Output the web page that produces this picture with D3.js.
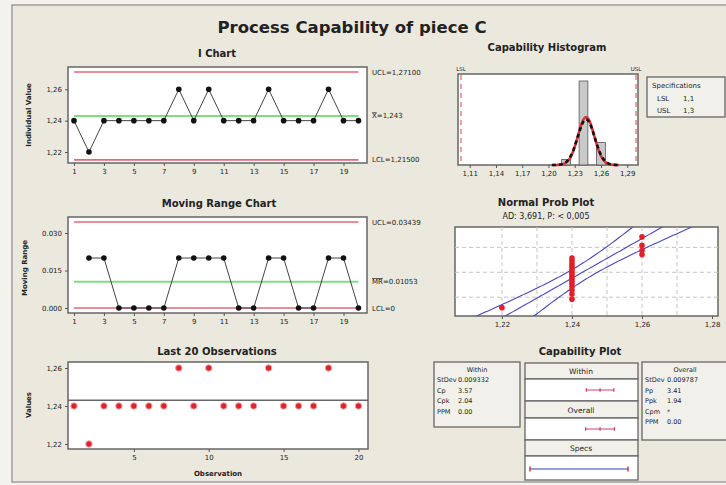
<!DOCTYPE html>
<html>
<head>
<meta charset="utf-8">
<script src="https://cdn.jsdelivr.net/npm/d3@7"></script>
<style>
body { margin: 0; background: #f4f2ed; }
text { font-family: "DejaVu Sans", sans-serif; fill: #222; }
</style>
</head>
<body>
<div id="chart"></div>
<script>
// Data
const observations = [1.24, 1.22, 1.24, 1.24, 1.24, 1.24, 1.24, 1.26, 1.24, 1.26,
                      1.24, 1.24, 1.24, 1.26, 1.24, 1.24, 1.24, 1.26, 1.24, 1.24];
const movingRanges = [null, 0.02, 0.02, 0, 0, 0, 0, 0.02, 0.02, 0.02,
                      0.02, 0, 0, 0.02, 0.02, 0, 0, 0.02, 0.02, 0];
const iLimits = [1.271, 1.243, 1.215];          // UCL, mean, LCL
const iLimitLabels = ["UCL=1,27100", "=1,243", "LCL=1,21500"];
const mrLimits = [0.03439, 0.01053, 0];
const mrLimitLabels = ["UCL=0.03439", "=0.01053", "LCL=0"];
const iTicks = [1.22, 1.24, 1.26];
const mrTicks = [0, 0.015, 0.030];
const chartTicksX = [1, 3, 5, 7, 9, 11, 13, 15, 17, 19];
const lastTicksX = [5, 10, 15, 20];

const histBinStart = [1.215, 1.235, 1.255];
const histCounts = [1, 15, 4];
const histBinWidth = 0.01;
const histTicks = [1.11, 1.14, 1.17, 1.20, 1.23, 1.26, 1.29];
const specNames = ["LSL", "USL"];
const specValues = [1.1, 1.3];
const specLabels = ["1,1", "1,3"];

const probTicks = [1.22, 1.24, 1.26, 1.28];
const probGridX = [1.22, 1.23, 1.24, 1.25, 1.26, 1.27];
const probGridPct = [10, 50, 90];

const sdWithin = 0.009332;
const sdOverall = 0.009787;
const withinNames = ["StDev", "Cp", "Cpk", "PPM"];
const withinValues = ["0.009332", "3.57", "2.04", "0.00"];
const overallNames = ["StDev", "Pp", "Ppk", "Cpm", "PPM"];
const overallValues = ["0.009787", "3.41", "1.94", "*", "0.00"];

const W = 726, H = 485;
const comma = f => d => d3.format(f)(d).replace(".", ",");

const svg = d3.select("#chart").append("svg")
    .attr("width", W).attr("height", H);

svg.append("rect").attr("x", 12).attr("y", 5).attr("width", 740).attr("height", 477)
    .attr("fill", "#ebe8de").attr("stroke", "#8a8a8a").attr("stroke-width", 1.2);

svg.append("text").attr("x", 352).attr("y", 33).attr("text-anchor", "middle")
    .style("font-size", "16.5px").style("font-weight", "bold")
    .text("Process Capability of piece C");

function title(x, y, t, size) {
    svg.append("text").attr("x", x).attr("y", y).attr("text-anchor", "middle")
        .style("font-size", (size || 10) + "px").style("font-weight", "bold").text(t);
}
function box(x0, y0, x1, y1) {
    return svg.append("rect").attr("x", x0).attr("y", y0)
        .attr("width", x1 - x0).attr("height", y1 - y0)
        .attr("fill", "#fff").attr("stroke", "#666").attr("stroke-width", 1.5);
}
function styleAxis(g) {
    g.select(".domain").remove();
    g.selectAll("text").style("font-size", "7px").attr("fill", "#333");
    g.selectAll("line").attr("stroke", "#555");
}
function yTitle(x, y, t) {
    svg.append("text").attr("transform", `translate(${x},${y}) rotate(-90)`)
        .attr("text-anchor", "middle").style("font-size", "7px").style("font-weight", "bold").text(t);
}

// ---------- I Chart ----------
const xObs = d3.scaleLinear().domain([0.6, 20.57]).range([68, 367]);
const yI = d3.scaleLinear().domain([1.2130, 1.2742]).range([163, 67]);
title(217, 57, "I Chart");
box(68, 67, 367, 163);
svg.append("g").attr("transform", "translate(68,0)")
    .call(d3.axisLeft(yI).tickValues(iTicks).tickSize(3).tickFormat(comma(".2f"))).call(styleAxis);
svg.append("g").attr("transform", "translate(0,163)")
    .call(d3.axisBottom(xObs).tickValues(chartTicksX).tickSize(3)).call(styleAxis);
yTitle(31, 115, "Individual Value");

const limitColors = ["#e06a78", "#80dd80", "#e06a78"];
iLimits.forEach((v, i) => {
    svg.append("line").attr("x1", xObs(1)).attr("x2", xObs(20))
        .attr("y1", yI(v)).attr("y2", yI(v))
        .attr("stroke", limitColors[i]).attr("stroke-width", i === 1 ? 2 : 1.6);
});
const iLine = d3.line().x((d, i) => xObs(i + 1)).y(d => yI(d));
svg.append("path").datum(observations).attr("d", iLine)
    .attr("fill", "none").attr("stroke", "#444").attr("stroke-width", 1);
svg.selectAll(".ipt").data(observations).join("circle")
    .attr("cx", (d, i) => xObs(i + 1)).attr("cy", d => yI(d)).attr("r", 2.8).attr("fill", "#111");

function limitLabel(y, t, bar, barText) {
    const tx = svg.append("text").attr("x", 372).attr("y", y + 2.5).style("font-size", "7px");
    if (bar) {
        tx.append("tspan").style("text-decoration", "overline").text(barText);
    }
    tx.append("tspan").text(t);
}
limitLabel(yI(iLimits[0]), iLimitLabels[0]);
limitLabel(yI(iLimits[1]), iLimitLabels[1], true, "X");
limitLabel(yI(iLimits[2]), iLimitLabels[2]);

// ---------- Moving Range Chart ----------
const yMR = d3.scaleLinear().domain([-0.002, 0.0364]).range([313, 217]);
title(219, 207, "Moving Range Chart");
box(68, 217, 367, 313);
svg.append("g").attr("transform", "translate(68,0)")
    .call(d3.axisLeft(yMR).tickValues(mrTicks).tickSize(3).tickFormat(d3.format(".3f"))).call(styleAxis);
svg.append("g").attr("transform", "translate(0,313)")
    .call(d3.axisBottom(xObs).tickValues(chartTicksX).tickSize(3)).call(styleAxis);
yTitle(27, 268, "Moving Range");
mrLimits.forEach((v, i) => {
    svg.append("line").attr("x1", xObs(1)).attr("x2", xObs(20))
        .attr("y1", yMR(v)).attr("y2", yMR(v))
        .attr("stroke", limitColors[i]).attr("stroke-width", i === 1 ? 2 : 1.6);
});
const mrData = movingRanges.map((v, i) => ({ i: i + 1, v })).filter(d => d.v !== null);
svg.append("path").datum(mrData)
    .attr("d", d3.line().x(d => xObs(d.i)).y(d => yMR(d.v)))
    .attr("fill", "none").attr("stroke", "#444").attr("stroke-width", 1);
svg.selectAll(".mrpt").data(mrData).join("circle")
    .attr("cx", d => xObs(d.i)).attr("cy", d => yMR(d.v)).attr("r", 2.8).attr("fill", "#111");
limitLabel(yMR(mrLimits[0]), mrLimitLabels[0]);
limitLabel(yMR(mrLimits[1]), mrLimitLabels[1], true, "MR");
limitLabel(yMR(mrLimits[2]), mrLimitLabels[2]);

// ---------- Last 20 Observations ----------
const yL = d3.scaleLinear().domain([1.21737, 1.26316]).range([449, 362]);
title(217, 355, "Last 20 Observations");
box(68, 362, 368, 449);
svg.append("g").attr("transform", "translate(68,0)")
    .call(d3.axisLeft(yL).tickValues(iTicks).tickSize(3).tickFormat(comma(".2f"))).call(styleAxis);
svg.append("g").attr("transform", "translate(0,449)")
    .call(d3.axisBottom(xObs).tickValues(lastTicksX).tickSize(3)).call(styleAxis);
yTitle(31, 405, "Values");
svg.append("text").attr("x", 218).attr("y", 476).attr("text-anchor", "middle")
    .style("font-size", "7px").style("font-weight", "bold").text("Observation");
svg.append("line").attr("x1", 68).attr("x2", 368)
    .attr("y1", yL(iLimits[1])).attr("y2", yL(iLimits[1]))
    .attr("stroke", "#666").attr("stroke-width", 1.5);
svg.selectAll(".lpt").data(observations).join("circle")
    .attr("cx", (d, i) => xObs(i + 1)).attr("cy", d => yL(d)).attr("r", 3.2)
    .attr("fill", "#d9252f").attr("stroke", "#f2a0a0").attr("stroke-width", 1);

// ---------- Capability Histogram ----------
const xH = d3.scaleLinear().domain([1.0966, 1.3023]).range([458, 638]);
const yH = d3.scaleLinear().domain([0, 16.25]).range([165, 74]);
title(547, 51, "Capability Histogram");
box(458, 74, 638, 165);
svg.append("g").attr("transform", "translate(0,165)")
    .call(d3.axisBottom(xH).tickValues(histTicks).tickSize(3).tickFormat(comma(".2f"))).call(styleAxis);
svg.selectAll(".hbar").data(histCounts).join("rect")
    .attr("x", (d, i) => xH(histBinStart[i]))
    .attr("width", (d, i) => xH(histBinStart[i] + histBinWidth) - xH(histBinStart[i]))
    .attr("y", d => yH(d)).attr("height", d => yH(0) - yH(d))
    .attr("fill", "#c9c9c9").attr("stroke", "#555").attr("stroke-width", 0.8);
const mean = d3.mean(observations);
const n = observations.length;
function normalCurve(sd) {
    const pts = d3.range(-4, 4.01, 0.1).map(z => {
        const x = mean + z * sd;
        const dens = Math.exp(-0.5 * z * z) / (sd * Math.sqrt(2 * Math.PI));
        return [x, dens * n * histBinWidth];
    });
    return d3.line().x(d => xH(d[0])).y(d => yH(d[1]))(pts);
}
svg.append("path").attr("d", normalCurve(sdWithin))
    .attr("fill", "none").attr("stroke", "#e0303a").attr("stroke-width", 2.6);
svg.append("path").attr("d", normalCurve(sdOverall))
    .attr("fill", "none").attr("stroke", "#111").attr("stroke-width", 2.6).attr("stroke-dasharray", "4,3");
specValues.forEach((v, i) => {
    svg.append("line").attr("x1", xH(v)).attr("x2", xH(v)).attr("y1", 75).attr("y2", 164)
        .attr("stroke", "#e07070").attr("stroke-width", 1.3).attr("stroke-dasharray", "5,4");
    svg.append("text").attr("x", xH(v)).attr("y", 71).attr("text-anchor", "middle")
        .style("font-size", "5.5px").attr("fill", "#e04848").text(specNames[i]);
});

// Specifications box
svg.append("rect").attr("x", 647).attr("y", 77).attr("width", 78).attr("height", 40)
    .attr("fill", "#f2f0ea").attr("stroke", "#666").attr("stroke-width", 1.3);
svg.append("text").attr("x", 652).attr("y", 88).style("font-size", "7px").text("Specifications");
specNames.forEach((s, i) => {
    svg.append("text").attr("x", 657).attr("y", 101 + i * 12).style("font-size", "7px").text(s);
    svg.append("text").attr("x", 683).attr("y", 101 + i * 12).style("font-size", "7px").text(specLabels[i]);
});

// ---------- Normal Prob Plot ----------
function qnorm(p) {
    const a = [-3.969683028665376e+01, 2.209460984245205e+02, -2.759285104469687e+02, 1.383577518672690e+02, -3.066479806614716e+01, 2.506628277459239e+00];
    const b = [-5.447609879822406e+01, 1.615858368580409e+02, -1.556989798598866e+02, 6.680131188771972e+01, -1.328068155288572e+01];
    const c = [-7.784894002430293e-03, -3.223964580411365e-01, -2.400758277161838e+00, -2.549732539343734e+00, 4.374664141464968e+00, 2.938163982698783e+00];
    const d = [7.784695709041462e-03, 3.224671290700398e-01, 2.445134137142996e+00, 3.754408661907416e+00];
    const pl = 0.02425;
    if (p < pl) {
        const q = Math.sqrt(-2 * Math.log(p));
        return (((((c[0] * q + c[1]) * q + c[2]) * q + c[3]) * q + c[4]) * q + c[5]) / ((((d[0] * q + d[1]) * q + d[2]) * q + d[3]) * q + 1);
    }
    if (p > 1 - pl) return -qnorm(1 - p);
    const q = p - 0.5, r = q * q;
    return (((((a[0] * r + a[1]) * r + a[2]) * r + a[3]) * r + a[4]) * r + a[5]) * q / (((((b[0] * r + b[1]) * r + b[2]) * r + b[3]) * r + b[4]) * r + 1);
}
const xP = d3.scaleLinear().domain([1.2066, 1.2817]).range([455, 718]);
const yP = d3.scaleLinear().domain([-2.25, 2.33]).range([316, 227]);
title(546, 206, "Normal Prob Plot");
svg.append("text").attr("x", 546).attr("y", 219).attr("text-anchor", "middle")
    .style("font-size", "8px").text("AD: 3,691, P: < 0,005");
box(455, 227, 718, 316);
svg.append("clipPath").attr("id", "pclip").append("rect")
    .attr("x", 455).attr("y", 227).attr("width", 263).attr("height", 89);
const pg = svg.append("g").attr("clip-path", "url(#pclip)");
probGridX.forEach(v => pg.append("line").attr("x1", xP(v)).attr("x2", xP(v)).attr("y1", 227).attr("y2", 316)
    .attr("stroke", "#c4c4c4").attr("stroke-dasharray", "4,3"));
probGridPct.forEach(p => pg.append("line").attr("x1", 455).attr("x2", 718)
    .attr("y1", yP(qnorm(p / 100))).attr("y2", yP(qnorm(p / 100)))
    .attr("stroke", "#c4c4c4").attr("stroke-dasharray", "4,3"));
const zs = d3.range(-2.6, 2.61, 0.05);
const band = k => zs.map(z => [mean + z * sdOverall + k * 1.96 * sdOverall * Math.sqrt(1 / n + z * z / (2 * (n - 1))), z]);
[-1, 0, 1].forEach(k => pg.append("path")
    .attr("d", d3.line().x(d => xP(d[0])).y(d => yP(d[1]))(band(k)))
    .attr("fill", "none").attr("stroke", "#4848c0").attr("stroke-width", 1.1));
const sorted = observations.slice().sort(d3.ascending);
pg.selectAll(".ppt").data(sorted).join("circle")
    .attr("cx", d => xP(d)).attr("cy", (d, i) => yP(qnorm((i + 1 - 0.3) / (n + 0.4))))
    .attr("r", 2.8).attr("fill", "#e0202a");
svg.append("g").attr("transform", "translate(0,316)")
    .call(d3.axisBottom(xP).tickValues(probTicks).tickSize(3).tickFormat(comma(".2f"))).call(styleAxis);

// ---------- Capability Plot ----------
title(580, 355, "Capability Plot");
function statBox(x0, y0, w, h, head, names, vals, valX) {
    svg.append("rect").attr("x", x0).attr("y", y0).attr("width", w).attr("height", h)
        .attr("fill", "#f2f0ea").attr("stroke", "#666").attr("stroke-width", 1.3);
    svg.append("text").attr("x", x0 + 43).attr("y", y0 + 10).attr("text-anchor", "middle")
        .style("font-size", "6.5px").text(head);
    names.forEach((s, i) => {
        svg.append("text").attr("x", x0 + 3).attr("y", y0 + 20 + i * 10.5).style("font-size", "6.5px").text(s);
        svg.append("text").attr("x", x0 + valX).attr("y", y0 + 20 + i * 10.5).style("font-size", "6.5px").text(vals[i]);
    });
}
statBox(434, 362, 86, 65, "Within", withinNames, withinValues, 24);
statBox(642, 362, 90, 78, "Overall", overallNames, overallValues, 25);

const xC = d3.scaleLinear().domain(specValues).range([530, 628]);
const rows = [["Within", 363, 379, 401], ["Overall", 401, 418, 440], ["Specs", 440, 456, 480]];
rows.forEach(r => {
    svg.append("rect").attr("x", 525).attr("y", r[1]).attr("width", 113).attr("height", r[2] - r[1])
        .attr("fill", "#f2f0ea").attr("stroke", "#666").attr("stroke-width", 1.3);
    svg.append("rect").attr("x", 525).attr("y", r[2]).attr("width", 113).attr("height", r[3] - r[2])
        .attr("fill", "#fff").attr("stroke", "#666").attr("stroke-width", 1.3);
    svg.append("text").attr("x", 581).attr("y", (r[1] + r[2]) / 2 + 3).attr("text-anchor", "middle")
        .style("font-size", "7.5px").text(r[0]);
});
[[sdWithin, 390], [sdOverall, 429]].forEach(([sd, y]) => {
    const lo = xC(mean - 3 * sd), hi = xC(mean + 3 * sd), mid = xC(mean);
    svg.append("line").attr("x1", lo).attr("x2", hi).attr("y1", y).attr("y2", y)
        .attr("stroke", "#c8407a").attr("stroke-width", 1);
    [lo, mid, hi].forEach(x => svg.append("line").attr("x1", x).attr("x2", x)
        .attr("y1", y - 1.8).attr("y2", y + 1.8).attr("stroke", "#c8407a").attr("stroke-width", 1.3));
});
svg.append("line").attr("x1", xC(specValues[0])).attr("x2", xC(specValues[1]))
    .attr("y1", 469).attr("y2", 469).attr("stroke", "#3040b8").attr("stroke-width", 1);
specValues.forEach(v => svg.append("line").attr("x1", xC(v)).attr("x2", xC(v))
    .attr("y1", 466.5).attr("y2", 471.5).attr("stroke", "#e03040").attr("stroke-width", 1.5));
</script>
</body>
</html>
